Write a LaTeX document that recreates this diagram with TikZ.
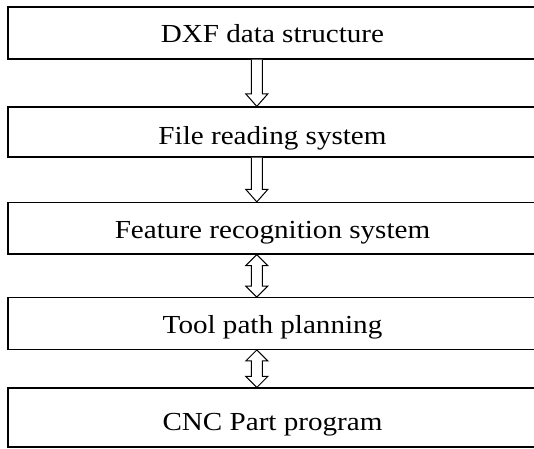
\documentclass[tikz,border=0pt]{standalone}
\usepackage{fontspec}
\setmainfont{Liberation Serif}[FakeStretch=1.12]
\usetikzlibrary{calc}
\tikzset{
  box/.style={draw, line width=1.2pt, inner sep=0pt, minimum width=529pt,
    font=\fontsize{26}{30}\selectfont, anchor=center},
  blockarrow/.style={draw, fill=white, line width=1pt, line join=miter}
}
\newcommand{\myonewayarrow}[2]{%
  \draw[blockarrow] ($(#1.south -| ax)+(-5.5,0)$) -- ($(#2.north -| ax)+(-5.5,12.5)$)
    -- ++(-5.5,0) -- ($(#2.north -| ax)$) -- ++(11,12.5) -- ++(-5.5,0)
    -- ($(#1.south -| ax)+(5.5,0)$);}
\newcommand{\mytwowayarrow}[2]{%
  \draw[blockarrow] ($(#1.south -| ax)$) -- ++(-11,-11) -- ++(5.5,0)
    -- ($(#2.north -| ax)+(-5.5,11)$) -- ++(-5.5,0) -- ($(#2.north -| ax)$)
    -- ++(11,11) -- ++(-5.5,0) -- ($(#1.south -| ax)+(5.5,-11)$) -- ++(5.5,0) -- cycle;}
\begin{document}
\begin{tikzpicture}[x=1pt,y=1pt]
\useasboundingbox (0,0) rectangle (534,-448);
\clip (0,0) rectangle (534,-448);
\coordinate (ax) at (256.8,0);
\node[box, minimum height=52pt, text height=35.3pt, text depth=16.7pt] (b1) at (272.5,-33) {DXF data structure};
\node[box, minimum height=50pt, text height=37pt, text depth=13pt] (b2) at (272.5,-132) {File reading system};
\node[box, minimum height=51.5pt, text height=35.5pt, text depth=16pt] (b3) at (272.5,-228.25) {Feature recognition system};
\node[box, minimum height=51.6pt, text height=35.3pt, text depth=16.3pt] (b4) at (272.5,-323.5) {Tool path planning};
\node[box, minimum height=59pt, text height=42pt, text depth=17pt] (b5) at (272.5,-417.5) {CNC Part program};
\myonewayarrow{b1}{b2}
\myonewayarrow{b2}{b3}
\mytwowayarrow{b3}{b4}
\mytwowayarrow{b4}{b5}
\end{tikzpicture}
\end{document}
